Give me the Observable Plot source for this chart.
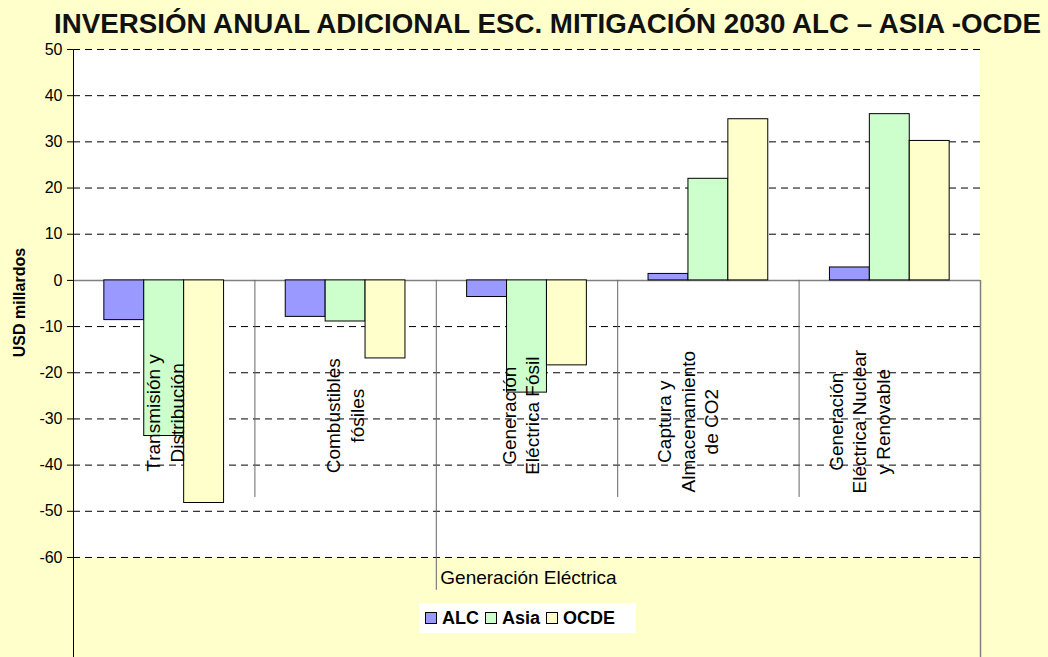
<!DOCTYPE html>
<html>
<head>
<meta charset="utf-8">
<script src="https://cdn.jsdelivr.net/npm/d3@7"></script>
<script src="https://cdn.jsdelivr.net/npm/@observablehq/plot@0.6"></script>
<style>
  html, body { margin: 0; padding: 0; background: #FFFFCC; overflow: hidden; }
  #wrap { position: relative; width: 1048px; height: 657px; }
  #title { height: 40px; }
  #legend { position: absolute; left: 419px; top: 603px; width: 217px; height: 30px; background: #fff;
            display: flex; align-items: center; font-family: "Liberation Sans", Arial, sans-serif;
            font-weight: bold; font-size: 18px; color: #000; }
  .item { display: flex; align-items: center; margin-left: 6px; }
  .sw { width: 10px; height: 10px; border: 1px solid #000; margin-right: 5px; }
</style>
</head>
<body>
<div id="wrap">
  <div id="title"></div>
  <div id="chart"></div>
  <div id="legend"></div>
</div>
<script>
// ---- data ----
const titleText = "INVERSIÓN ANUAL ADICIONAL ESC. MITIGACIÓN 2030 ALC – ASIA -OCDE";
const yLabel = "USD millardos";
const categories = [
  "Transmisión y\nDistribución",
  "Combustibles\nfósiles",
  "Generación\nEléctrica Fósil",
  "Captura y\nAlmacenamiento\nde CO2",
  "Generación\nEléctrica Nuclear\ny Renovable"
];
const groupLabel = "Generación Eléctrica";
const groupStart = 2; // group "Generación Eléctrica" covers categories 2..4
const series = ["ALC", "Asia", "OCDE"];
const colors = ["#9999FF", "#CCFFCC", "#FFFFCC"];
const alc  = [-8.6, -7.9, -3.6, 1.4, 2.8];
const asia = [-33.7, -8.9, -24.3, 22.0, 36.0];
const ocde = [-48.2, -16.9, -18.4, 34.9, 30.2];
const yTicks = [-60, -50, -40, -30, -20, -10, 0, 10, 20, 30, 40, 50];

// ---- layout / style ----
const values = [alc, asia, ocde];
const yMax = 50, yMin = -60, yBottom = -81.66;
const groupPad = 0.17, barW = 0.22;
const rows = [];
categories.forEach((c, i) => series.forEach((s, j) => rows.push({
  cat: c, s, v: values[j][i],
  x1: i + groupPad + j * barW, x2: i + groupPad + (j + 1) * barW
})));
const dividers = d3.range(1, categories.length).map(k => ({x: k, y2: k === groupStart ? -67.1 : -47}));
const labelDx = [0, -1, -7, -21, -31];
const labelY = [-28.7, -29.3, -29.3, -30.6, -30.6];

// title
const tsvg = d3.select("#title").append("svg").attr("width", 1048).attr("height", 40);
tsvg.append("text").attr("x", 54).attr("y", 33)
  .attr("textLength", 987).attr("lengthAdjust", "spacingAndGlyphs")
  .style("font-family", "'Liberation Sans Narrow', 'Liberation Sans', sans-serif").style("font-weight", "bold")
  .style("font-size", "27px").attr("fill", "#111").text(titleText);

const labelMarks = categories.map((c, i) => Plot.text([c], {
  x: i + 0.5, y: labelY[i], text: d => d, rotate: -90, dx: labelDx[i],
  fontSize: 19, lineHeight: 1.24, textAnchor: "middle", lineAnchor: "middle", fill: "#000"
}));

const chart = Plot.plot({
  width: 1048, height: 617,
  marginTop: 9, marginBottom: 0, marginLeft: 73, marginRight: 68,
  x: {domain: [0, categories.length], axis: null},
  y: {domain: [yBottom, yMax], axis: null},
  color: {domain: series, range: colors},
  style: {background: "transparent", fontFamily: "'Liberation Sans', Arial, sans-serif", color: "#000"},
  marks: [
    Plot.rect([0], {x1: 0, x2: categories.length, y1: yMin, y2: yMax, fill: "white"}),
    Plot.ruleY(yTicks.filter(t => t !== 0), {x1: 0, x2: categories.length, stroke: "#000", strokeDasharray: "7,5"}),
    Plot.ruleY([0], {x1: 0, x2: categories.length, stroke: "#808080", strokeWidth: 1.5}),
    Plot.rect(rows, {x1: "x1", x2: "x2", y1: 0, y2: "v", fill: "s", stroke: "#000", strokeWidth: 1}),
    Plot.ruleX(dividers, {x: "x", y1: 0, y2: "y2", stroke: "#666"}),
    Plot.ruleX([categories.length], {y1: yBottom, y2: 0, stroke: "#808080", strokeWidth: 1.5}),
    Plot.ruleX([0], {y1: yBottom, y2: yMax, stroke: "#000"}),
    Plot.axisY({ticks: yTicks, tickSize: 6, tickPadding: 5, fontSize: 16, label: null, tickFormat: d => String(d)}),
    Plot.text([yLabel], {x: 0, y: -4.8, text: d => d, dx: -54, rotate: -90, fontSize: 16, fontWeight: "bold", textAnchor: "middle"}),
    ...labelMarks,
    Plot.text([groupLabel], {x: groupStart, y: -64.5, text: d => d, dx: 4, textAnchor: "start", fontSize: 19})
  ]
});
document.getElementById("chart").appendChild(chart);

// legend
const leg = d3.select("#legend");
series.forEach((s, j) => {
  const it = leg.append("div").attr("class", "item");
  it.append("div").attr("class", "sw").style("background", colors[j]);
  it.append("span").text(s);
});
</script>
</body>
</html>
